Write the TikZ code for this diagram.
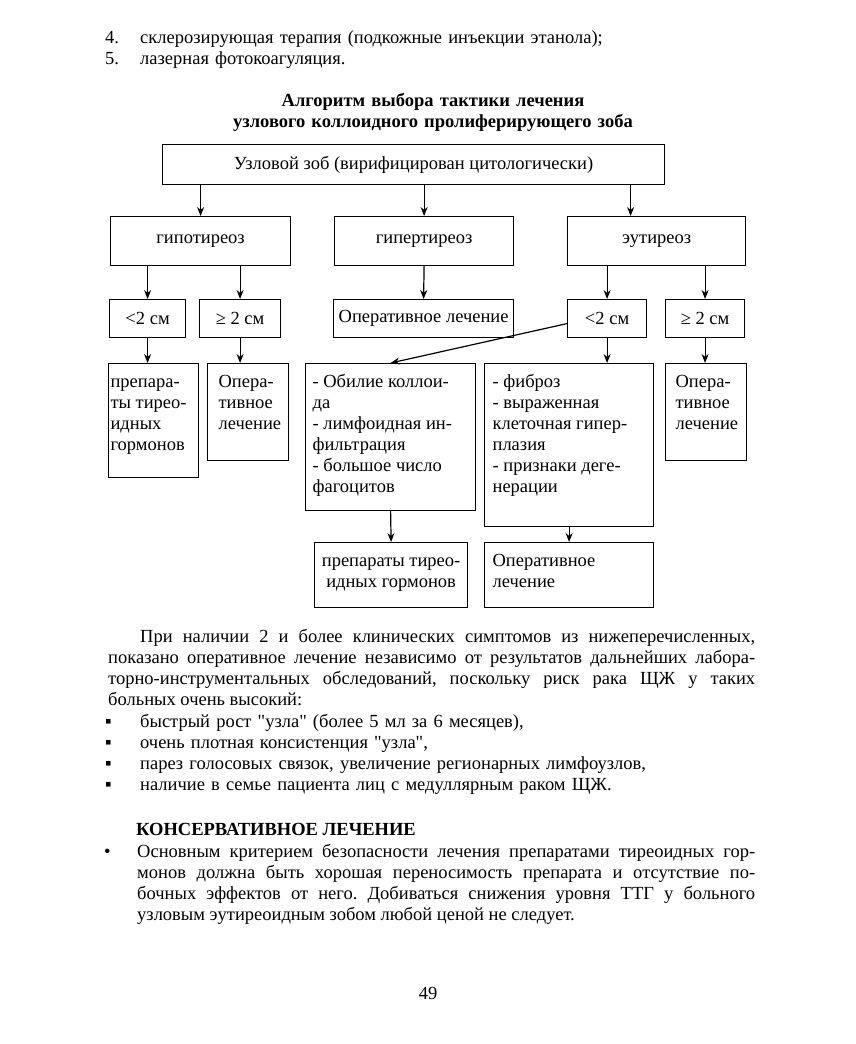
\documentclass[tikz,border=0pt]{standalone}
\usepackage{fontspec}
\setmainfont{Liberation Serif}[Ligatures=TeXOff]
\usetikzlibrary{arrows.meta,positioning}
\frenchspacing

\begin{document}
\begin{tikzpicture}[
    % Environment Config
    x=1pt, y=-1pt,
    font=\fontsize{18.5}{21}\selectfont,
    Box/.style={% Style for the chart boxes
      draw,
      line width=1.2pt,
      anchor=north west,
      inner sep=0pt
    },
    Cell/.style={% Style for boxes with the text at the top
      Box,
      inner ysep=9pt
    },
    Flow/.style={% Style for the arrows
      -{Stealth[length=9pt,width=7pt]},
      line width=1.2pt
    },
    Txt/.style={% Style for the page text
      anchor=base west,
      inner sep=0pt
    }
  ]

  \def\CellText#1#2#3#4{% Text with fixed width, height and left gap
    \parbox[t][#2][t]{#1}{\raggedright\leftskip=#3\strut#4}}

  % Page size
  \useasboundingbox (0,0) rectangle (855,1044);
  \fill[white] (0,0) rectangle (855,1044);

  %===Text above the chart===
  \node[Txt, text width=600, align=left] (Methods) at (105,43)
    {\makebox[35pt][l]{4.}склерозирующая терапия (подкожные инъекции этанола);\\
     \makebox[35pt][l]{5.}лазерная фотокоагуляция.};
  \node[anchor=base, inner sep=0pt, text width=600, align=center,
        font=\fontsize{18.5}{21}\selectfont\bfseries] (Title) at (433,106)
    {Алгоритм выбора тактики лечения\\узлового коллоидного пролиферирующего зоба};

  %===Level 0===
  \node[Box, minimum width=502, minimum height=40] (Goiter) at (162,144)
    {Узловой зоб (вирифицирован цитологически)};

  %===Level 1===
  \node[Box, minimum width=180, minimum height=49] (Hypo) at (110,216) {гипотиреоз};
  \node[Box, minimum width=179, minimum height=49] (Hyper) at (334,216) {гипертиреоз};
  \node[Box, minimum width=178, minimum height=49] (Eu) at (567,216) {эутиреоз};

  %===Level 2===
  \node[Box, minimum width=76, minimum height=38] (HypoSmall) at (109,299) {<2 см};
  \node[Box, minimum width=81, minimum height=38] (HypoLarge) at (199,299) {≥ 2 см};
  \node[Box, minimum width=180, minimum height=38] (HyperOp) at (333,299) {Оперативное лечение};
  \node[Box, minimum width=79, minimum height=38] (EuSmall) at (567,299) {<2 см};
  \node[Box, minimum width=79, minimum height=38] (EuLarge) at (665,299) {≥ 2 см};

  %===Level 3===
  \node[Cell] (HypoDrug) at (108,363)
    {\CellText{90pt}{96pt}{2pt}{препара-\\ты тирео-\\идных\\гормонов}};
  \node[Cell] (HypoOp) at (207,363)
    {\CellText{81pt}{79pt}{11pt}{Опера-\\тивное\\лечение}};
  \node[Cell] (Colloid) at (305,363)
    {\CellText{170pt}{129pt}{7pt}{- Обилие коллои-\\да\\- лимфоидная ин-\\фильтрация\\- большое число\\фагоцитов}};
  \node[Cell] (Fibrosis) at (484,363)
    {\CellText{169pt}{145pt}{8pt}{- фиброз\\- выраженная\\клеточная гипер-\\плазия\\- признаки деге-\\нерации}};
  \node[Cell] (EuOp) at (665,363)
    {\CellText{81pt}{79pt}{10pt}{Опера-\\тивное\\лечение}};

  %===Level 4===
  \node[Cell] (ColloidDrug) at (314,542)
    {\CellText{153pt}{47pt}{0pt}{\centering препараты тирео-\\идных гормонов}};
  \node[Cell] (FibrosisOp) at (484,542)
    {\CellText{169pt}{47pt}{8pt}{Оперативное\\лечение}};

  % Draw the arrows
  \coordinate (EuIn) at ([xshift=-26pt]Eu.north);
  \draw[Flow] (Goiter.south -| Hypo.north) -- (Hypo.north);
  \draw[Flow] (Goiter.south -| Hyper.north) -- (Hyper.north);
  \draw[Flow] (Goiter.south -| EuIn) -- (EuIn);

  \draw[Flow] (Hypo.south -| HypoSmall.north) -- (HypoSmall.north);
  \draw[Flow] (Hypo.south -| HypoLarge.north) -- (HypoLarge.north);
  \draw[Flow] (Hyper.south) -- (HyperOp.north);
  \draw[Flow] (Eu.south -| EuSmall.north) -- (EuSmall.north);
  \draw[Flow] (Eu.south -| EuLarge.north) -- (EuLarge.north);

  \draw[Flow] (HypoSmall.south) -- (HypoSmall.south |- HypoDrug.north);
  \draw[Flow] (HypoLarge.south) -- (HypoLarge.south |- HypoOp.north);
  \draw[Flow] ([yshift=-5pt]EuSmall.west) -- (Colloid.north);
  \draw[Flow] (EuSmall.south) -- (EuSmall.south |- Fibrosis.north);
  \draw[Flow] (EuLarge.south) -- (EuLarge.south |- EuOp.north);

  \draw[Flow] (Colloid.south) -- (ColloidDrug.north);
  \draw[Flow] (Fibrosis.south) -- (FibrosisOp.north);

  %===Text below the chart===
  \node[Txt, text width=647, align=justify] (Risk) at (108,642)
    {\hspace*{32pt}При наличии 2 и более клинических симптомов из нижеперечисленных,\linebreak
     показано оперативное лечение независимо от результатов дальнейших лабора-\linebreak
     торно-инструментальных обследований, поскольку риск рака ЩЖ у таких\linebreak
     больных очень высокий:};
  \node[Txt, text width=650, align=left] (Signs) at (105,727)
    {\makebox[35pt][l]{▪}быстрый рост "узла" (более 5 мл за 6 месяцев),\\
     \makebox[35pt][l]{▪}очень плотная консистенция "узла",\\
     \makebox[35pt][l]{▪}парез голосовых связок, увеличение регионарных лимфоузлов,\\
     \makebox[35pt][l]{▪}наличие в семье пациента лиц с медуллярным раком ЩЖ.};

  \node[Txt, font=\fontsize{18.5}{21}\selectfont\bfseries] (Conserv) at (136,835)
    {КОНСЕРВАТИВНОЕ ЛЕЧЕНИЕ};
  \node[Txt] (Dot) at (104,857) {•};
  \node[Txt, text width=618, align=justify] (Safety) at (137,857)
    {Основным критерием безопасности лечения препаратами тиреоидных гор-\linebreak
     монов должна быть хорошая переносимость препарата и отсутствие по-\linebreak
     бочных эффектов от него. Добиваться снижения уровня ТТГ у больного\linebreak
     узловым эутиреоидным зобом любой ценой не следует.};

  \node[anchor=base, inner sep=0pt] (PageNo) at (428,999) {49};
\end{tikzpicture}
\end{document}
